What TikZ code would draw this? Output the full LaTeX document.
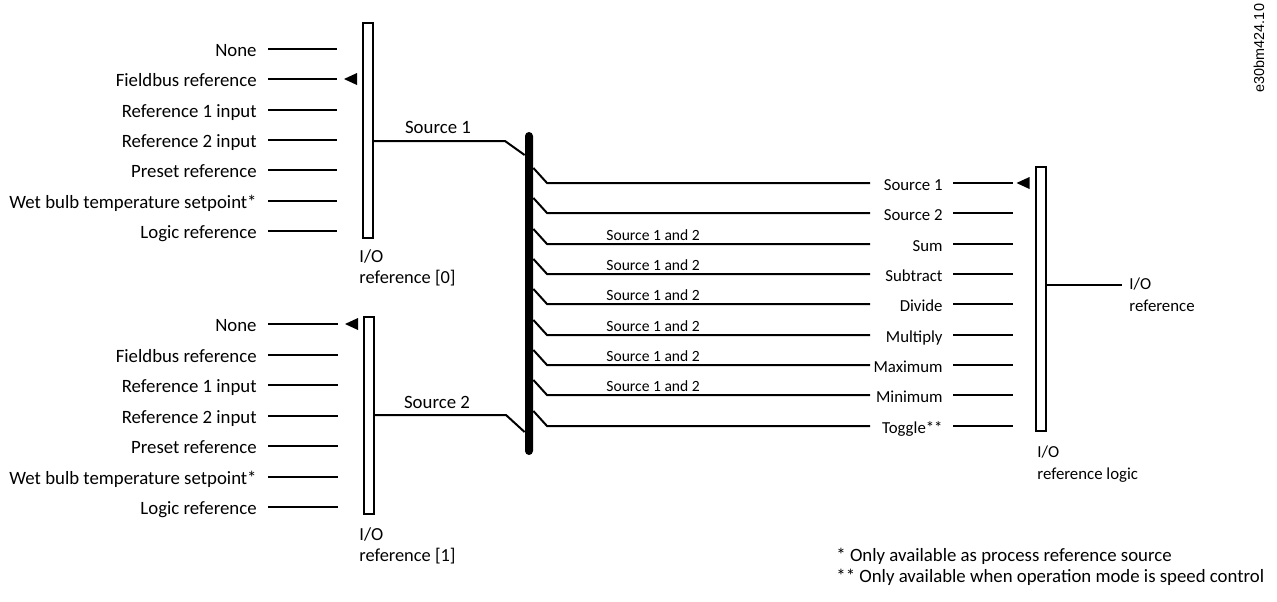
\documentclass[tikz,border=0pt]{standalone}
\usepackage{fontspec}
\setmainfont{Carlito}
\newfontfamily\tagfont{Liberation Sans}
\usetikzlibrary{positioning, arrows.meta}

\tikzset{
  optlabel/.style={anchor=east, inner sep=0pt, text height=0.7em, text depth=0pt},
  oplabel/.style={optlabel, font=\fontsize{8.4}{10}\selectfont},
  tinylabel/.style={anchor=south west, inner sep=0pt, font=\fontsize{7.8}{9}\selectfont},
  caption/.style={anchor=north west, align=left, inner sep=0pt, font=\fontsize{9.2}{10.5}\selectfont},
  smallcaption/.style={caption, font=\fontsize{8.4}{11}\selectfont},
  note/.style={anchor=west, inner sep=0pt},
  selbar/.style={draw, line width=1pt, fill=white, minimum width=5pt, inner sep=0pt},
  busbar/.style={fill=black, minimum width=4pt, minimum height=161.5pt, rounded corners=2pt, inner sep=0pt},
  wire/.style={line width=1pt},
}
\newcommand\selmark[1]{\fill ([xshift=-2.5pt]#1) -- ++(0,3pt) -- ++(-6.5pt,-3pt) -- ++(6.5pt,-3pt) -- cycle;}

\begin{document}
\begin{tikzpicture}[x=0.5pt, y=-0.5pt, font=\fontsize{9.4}{11}\selectfont]
  \useasboundingbox (0,0) rectangle (1277,601);

  % selectors and bus
  \node[selbar, minimum height=107.5pt] (sel0) at (368,130.5) {};
  \node[selbar, minimum height=98.5pt] (sel1) at (369,415.5) {};
  \node[selbar, minimum height=132pt] (logic) at (1040.5,299) {};
  \node[busbar] (bus) at (529,293.5) {};

  % I/O reference [0]
  \foreach \txt [count=\i] in {None, Fieldbus reference, Reference 1 input, Reference 2 input, Preset reference, Wet bulb temperature setpoint*, Logic reference} {
    \node[optlabel] (a\i) at (257,{round(49+30.3*(\i-1))}) {\txt};
    \draw[wire] ([xshift=5.5pt]a\i.east) -- ([xshift=-12.5pt]sel0.west |- a\i.east);
  }
  \selmark{sel0.west |- a2.east}
  \node[caption] (cap0) at (359,249) {I/O\\reference [0]};

  % I/O reference [1]
  \foreach \txt [count=\i] in {None, Fieldbus reference, Reference 1 input, Reference 2 input, Preset reference, Wet bulb temperature setpoint*, Logic reference} {
    \node[optlabel] (b\i) at (257,{round(324+30.5*(\i-1))}) {\txt};
    \draw[wire] ([xshift=5.5pt]b\i.east) -- ([xshift=-12.5pt]sel1.west |- b\i.east);
  }
  \selmark{sel1.west |- b1.east}
  \node[caption] (cap1) at (359,527) {I/O\\reference [1]};

  % sources into the bus
  \node (s1lbl) at (438,127) {Source 1};
  \node (s2lbl) at (437,402) {Source 2};
  \draw[wire] (sel0.east |- 0,141) -- (505,141) -- (bus.west |- 0,155);
  \draw[wire] (sel1.east |- 0,415) -- (506,415) -- (bus.west |- 0,432);

  % I/O reference logic
  \foreach \txt [count=\i] in {Source 1, Source 2, Sum, Subtract, Divide, Multiply, Maximum, Minimum, Toggle**} {
    \pgfmathsetmacro\yy{round(183+30.35*(\i-1))}
    \pgfmathsetmacro\yb{\yy-15}
    \node[oplabel] (op\i) at (943,\yy) {\txt};
    \draw[wire] (bus.east |- 0,\yb) -- (547,\yy) -- (870,\yy);
    \draw[wire] ([xshift=5pt]op\i.east) -- ([xshift=-10.75pt]logic.west |- op\i.east);
  }
  \foreach \i in {3,...,8}
    \node[tinylabel] (both\i) at (606,{round(180+30.35*(\i-1))}) {Source 1 and 2};
  \selmark{logic.west |- op1.east}
  \node[smallcaption] (caplogic) at (1037,445) {I/O\\reference logic};

  % output
  \node[smallcaption, anchor=west] (ioref) at (1129,294.5) {I/O\\reference};
  \draw[wire] (logic.east |- 0,285) -- ([xshift=-3.5pt]ioref.west |- 0,285);

  % footnotes
  \node[note] (fn1) at (836,556) {* Only available as process reference source};
  \node[note] (fn2) at (836,577) {** Only available when operation mode is speed control};

  \node[rotate=90, inner sep=0pt, font=\tagfont\fontsize{7.2}{8}\selectfont] (tag) at (1259,48) {e30bm424.10};
\end{tikzpicture}
\end{document}
